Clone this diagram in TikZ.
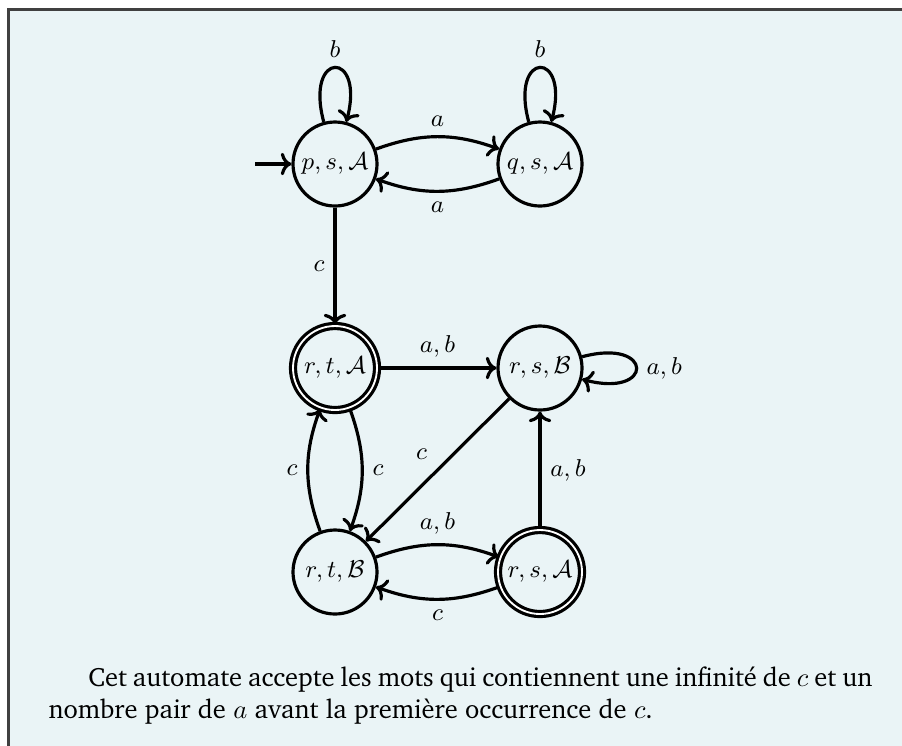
\RequirePackage{fix-cm}
\documentclass[tikz,border=0pt]{standalone}
\usepackage[T1]{fontenc}
\renewcommand{\rmdefault}{bch}
\usetikzlibrary{arrows.meta}

\definecolor{boxbg}{RGB}{234,244,246}
\definecolor{boxframe}{RGB}{64,64,64}

\tikzset{
  every node/.style={font=\fontsize{9.2}{11}\selectfont},
  stnode/.style={circle, draw=black, line width=1.2pt, minimum size=31.7pt, inner sep=0pt},
  acc/.style={double=white, double distance=0.7pt},
  trans/.style={-{To[length=4pt,width=8.5pt]}, line width=1.2pt},
}

\begin{document}
\begin{tikzpicture}[x=0.37736pt, y=-0.37736pt]
  \useasboundingbox (0,0) rectangle (902,745);
  \clip (0,0) rectangle (902,745);

  % framed box, cut by the page on the right and bottom
  \fill[boxbg] (8.5,9.5) rectangle (960,800);
  \draw[boxframe, line width=1.13pt] (8.5,800) -- (8.5,9.5) -- (960,9.5);

  % states
  \node[stnode] (psA) at (335,164) {$p,s,\mathcal{A}$};
  \node[stnode] (qsA) at (540,164) {$q,s,\mathcal{A}$};
  \node[stnode, acc] (rtA) at (335,368) {$r,t,\mathcal{A}$};
  \node[stnode] (rsB) at (540,368) {$r,s,\mathcal{B}$};
  \node[stnode] (rtB) at (335,572) {$r,t,\mathcal{B}$};
  \node[stnode, acc] (rsA) at (540,572) {$r,s,\mathcal{A}$};

  % initial arrow
  \coordinate (init) at (255,164);
  \draw[trans] (init) -- (psA);

  % transitions
  \draw[trans] (psA) to[loop above, looseness=8.5] node[above] {$b$} (psA);
  \draw[trans] (qsA) to[loop above, looseness=8.5] node[above] {$b$} (qsA);
  \draw[trans] (psA) to[bend left=20] node[above] {$a$} (qsA);
  \draw[trans] (qsA) to[bend left=20] node[below] {$a$} (psA);
  \draw[trans] (psA) -- node[left] {$c$} (rtA);
  \draw[trans] (rtA) -- node[above] {$a,b$} (rsB);
  \draw[trans] (rsB) to[loop right, looseness=8.5] node[right] {$a,b$} (rsB);
  \draw[trans] (rtA) to[bend left=20] node[right] {$c$} (rtB);
  \draw[trans] (rtB) to[bend left=20] node[left] {$c$} (rtA);
  \draw[trans] (rsB) -- node[above left] {$c$} (rtB);
  \draw[trans] (rtB) to[bend left=20] node[above] {$a,b$} (rsA);
  \draw[trans] (rsA) to[bend left=20] node[below] {$c$} (rtB);
  \draw[trans] (rsA) -- node[right] {$a,b$} (rsB);

  % caption
  \node[anchor=north west, inner sep=0pt, text width=310.9pt, align=justify,
        font=\fontsize{10}{12.1}\selectfont]
    (caption) at (48,666)
    {\hspace*{15pt}Cet automate accepte les mots qui contiennent une infinit\'e de $c$ et un\linebreak
     nombre pair de $a$ avant la premi\`ere occurrence de $c$.};
\end{tikzpicture}
\end{document}
